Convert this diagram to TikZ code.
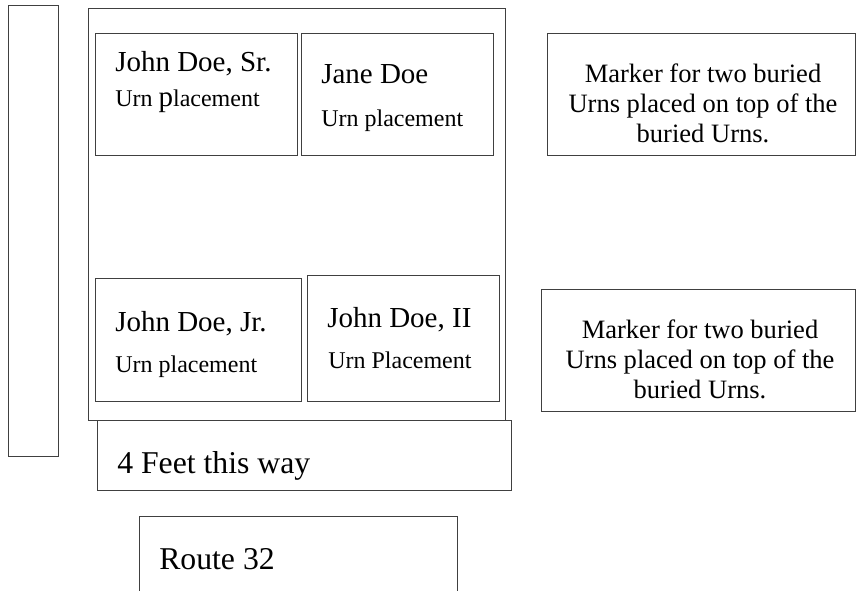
\documentclass[tikz,border=0pt]{standalone}
\usepackage{fontspec}
\setmainfont{Liberation Serif}
\usetikzlibrary{positioning}
\tikzset{
    gravebox/.style ={
        draw=black!75,
        line width=0.75pt,
        anchor=north west,
        inner sep=0pt,
        outer sep=0pt
    },
    whotext/.style ={
        font=\fontsize{21.75pt}{26pt}\selectfont,
        inner sep=0pt,
        anchor=base west
    },
    urntext/.style ={
        font=\fontsize{18pt}{22pt}\selectfont,
        inner sep=0pt,
        anchor=base west
    },
    markertext/.style ={
        font=\fontsize{19.9pt}{22.5pt}\selectfont,
        align=center,
        inner sep=0pt
    },
    roadtext/.style ={
        font=\fontsize{23.8pt}{28pt}\selectfont,
        inner sep=0pt,
        anchor=base west
    }
}

\begin{document}
\begin{tikzpicture}[x=0.75pt,y=-0.75pt]
    \useasboundingbox (0,0) rectangle (856,590);
    \clip (0,0) rectangle (856,590);
    % plot outline
    \node[gravebox,minimum width=37.5pt,minimum height=338.25pt] (strip) at (8,5) {};
    \node[gravebox,minimum width=312.75pt,minimum height=309pt] (plot) at (88,8) {};
    \node[gravebox,minimum width=151.5pt,minimum height=91.5pt] (sr) at (95,33) {};
    \node[gravebox,minimum width=144pt,minimum height=91.5pt] (jane) at (301,33) {};
    \node[gravebox,minimum width=154.5pt,minimum height=92.25pt] (jr) at (95,278) {};
    \node[gravebox,minimum width=144pt,minimum height=94.5pt] (ii) at (307,275) {};
    \node[gravebox,minimum width=231pt,minimum height=91.5pt] (markertop) at (547,33) {};
    \node[gravebox,minimum width=235.5pt,minimum height=91.5pt] (markerbottom) at (541,289) {};
    \node[gravebox,minimum width=310.5pt,minimum height=52.5pt] (feet) at (97,420) {};
    \node[gravebox,minimum width=238.5pt,minimum height=80pt] (route) at (139,516) {};
    % texts
    \node[whotext] (srname) at (115,71) {John Doe, Sr.};
    \node[urntext] (srurn) at (115,106) {Urn {\fontsize{21.75pt}{26pt}\selectfont p}lacement};
    \node[whotext] (janename) at (321,83) {Jane Doe};
    \node[urntext] (janeurn) at (321,126) {Urn placement};
    \node[whotext] (jrname) at (115,331) {John Doe, Jr.};
    \node[urntext] (jrurn) at (115,372) {Urn placement};
    \node[whotext] (iiname) at (327,327) {John Doe, II};
    \node[urntext] (iiurn) at (328,368) {Urn Placement};
    \node[markertext] (markertoptext) at (703,103) {Marker for two buried\\Urns placed on top of the\\buried Urns.};
    \node[markertext] (markerbottomtext) at (700,359) {Marker for two buried\\Urns placed on top of the\\buried Urns.};
    \node[roadtext] (feettext) at (117,473) {4 Feet this way};
    \node[roadtext] (routetext) at (159,569) {Route 32};
\end{tikzpicture}
\end{document}
